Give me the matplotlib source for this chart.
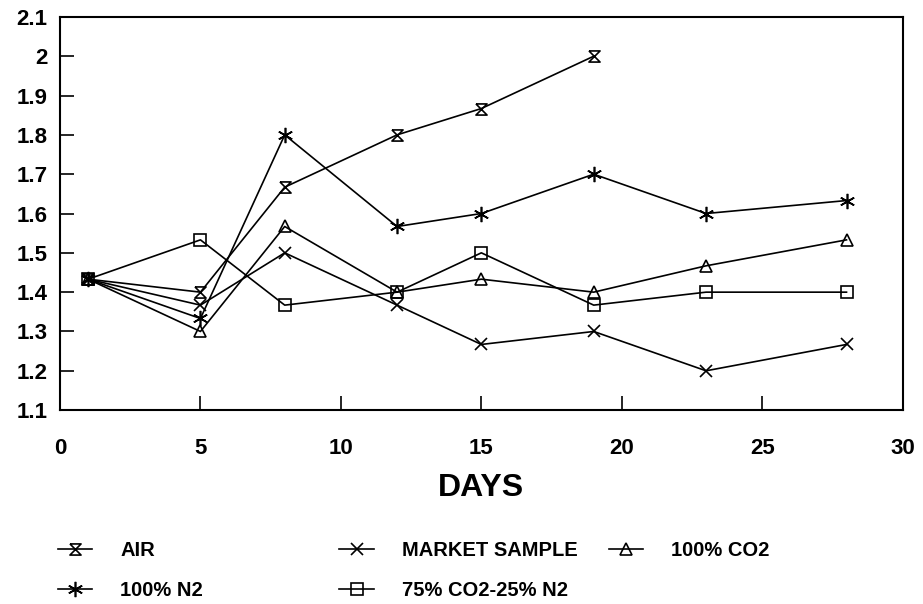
import matplotlib.pyplot as plt

plt.rcParams['font.family'] = ['Liberation Sans', 'DejaVu Sans']
plt.rcParams['font.weight'] = 'bold'

# data
days = [1, 5, 8, 12, 15, 19, 23, 28]
air = [1.433, 1.40, 1.667, 1.80, 1.867, 2.00]
market = [1.433, 1.367, 1.50, 1.367, 1.267, 1.30, 1.20, 1.267]
co2 = [1.433, 1.30, 1.567, 1.40, 1.433, 1.40, 1.467, 1.533]
n2 = [1.433, 1.333, 1.80, 1.567, 1.60, 1.70, 1.60, 1.633]
mix = [1.433, 1.533, 1.367, 1.40, 1.50, 1.367, 1.40, 1.40]

xticks = [0, 5, 10, 15, 20, 25, 30]
yticks = [1.1, 1.2, 1.3, 1.4, 1.5, 1.6, 1.7, 1.8, 1.9, 2.0, 2.1]
ytick_labels = ['1.1', '1.2', '1.3', '1.4', '1.5', '1.6', '1.7', '1.8', '1.9', '2', '2.1']

hourglass = [(-1, 1), (1, 1), (-1, -1), (1, -1), (-1, 1)]

fig = plt.figure(figsize=(9.23, 6.04), dpi=100)
ax = fig.add_axes([0.065, 0.321, 0.913, 0.651])

common = dict(color='black', lw=1.2, mfc='none', mec='black', mew=1.2)
l_air, = ax.plot(days[:len(air)], air, marker=hourglass, ms=8, label='AIR', **common)
l_mkt, = ax.plot(days, market, marker='x', ms=9, label='MARKET SAMPLE', **common)
l_co2, = ax.plot(days, co2, marker='^', ms=9, label='100% CO2', **common)
l_n2, = ax.plot(days, n2, marker=(6, 2, 0), ms=11, label='100% N2', **common)
l_mix, = ax.plot(days, mix, marker='s', ms=8, label='75% CO2-25% N2', **common)

ax.set_xlim(0, 30)
ax.set_ylim(1.1, 2.1)
ax.set_xticks(xticks)
ax.set_xticklabels([str(t) for t in xticks])
ax.set_yticks(yticks)
ax.set_yticklabels(ytick_labels)
ax.tick_params(direction='in', length=10, width=1.2, labelsize=16)
ax.tick_params(axis='x', pad=20)
ax.tick_params(axis='y', pad=9)
for s in ax.spines.values():
    s.set_linewidth(1.5)
ax.set_xlabel('DAYS', fontsize=23, fontweight='bold', labelpad=10)

leg_kw = dict(frameon=False, fontsize=14.5, handlelength=1.7, handletextpad=1.4,
              labelspacing=1.05, loc='upper left', borderaxespad=0)
fig.legend(handles=[l_air, l_n2], bbox_to_anchor=(0.054, 0.118), **leg_kw)
fig.legend(handles=[l_mkt, l_mix], bbox_to_anchor=(0.359, 0.118), **leg_kw)
fig.legend(handles=[l_co2], bbox_to_anchor=(0.651, 0.118), **leg_kw)

fig.savefig('out.png', dpi=100)
